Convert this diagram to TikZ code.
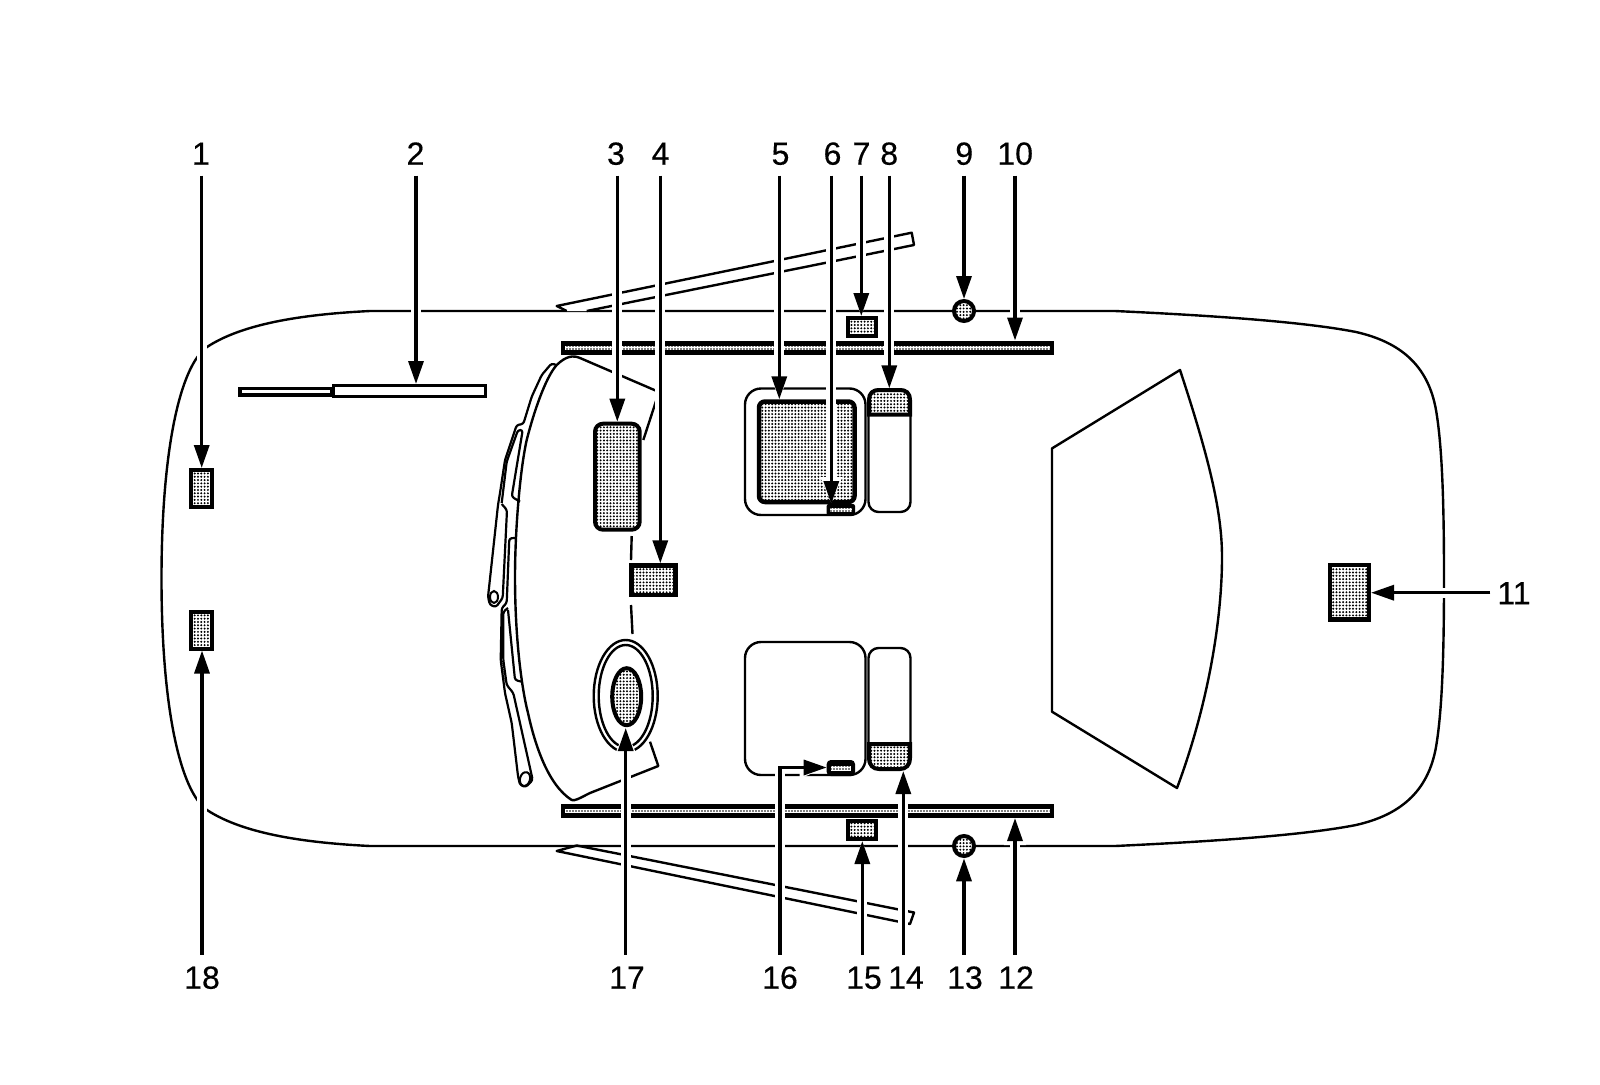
\documentclass[tikz,border=0pt]{standalone}
\usepackage{fontspec}
\setmainfont{Liberation Sans}
\newfontfamily\lblfont[FakeBold=0.35]{Liberation Sans}
\usetikzlibrary{arrows.meta,patterns.meta}
\tikzset{
  lbl/.style={font=\lblfont\fontsize{32}{32}\selectfont,text height=23pt,text depth=0pt,inner ysep=11pt,inner xsep=7pt,outer sep=0pt},
  leader/.style={line width=3.3pt,-{Triangle[length=23pt,width=15pt]},
     preaction={draw=white,line width=10pt,-{Triangle[length=27pt,width=20pt]}}},
  thin line/.style={line width=2.4pt,line join=round},
  wiper/.style={line width=2.2pt,line join=round,rounded corners=2.5pt},
  dotfill/.style={pattern={Dots[distance=3.3pt,radius=1.1pt]},pattern color=black},
  dotbox/.style={draw,line width=4pt,dotfill},
  stripdots/.style={pattern={Dots[distance=3pt,radius=.8pt]},pattern color=black},
}
\begin{document}
\begin{tikzpicture}[x=1pt,y=-1pt]
\useasboundingbox (0,0) rectangle (1600,1084);
\fill[white] (0,0) rectangle (1600,1084);

% body
\draw[thin line] (370,311) -- (1115,311) .. controls (1200,315) and (1300,321) .. (1356,332)
  .. controls (1400,342) and (1428,365) .. (1436,410) .. controls (1442,445) and (1444,500) .. (1444,578.5)
  .. controls (1444,657) and (1442,712) .. (1436,747) .. controls (1428,792) and (1400,815) .. (1356,825)
  .. controls (1300,836) and (1200,842) .. (1115,846) -- (370,846)
  .. controls (310,843) and (245,835) .. (207,810) .. controls (180,791) and (161.5,707) .. (161.5,578.5)
  .. controls (161.5,450) and (180,366) .. (207,347) .. controls (245,322) and (310,314) .. (370,311) -- cycle;

% rear window
\draw[thin line] (1052,448.4) -- (1180,370) .. controls (1208,455) and (1222,510) .. (1222,557)
  .. controls (1222,620) and (1208,705) .. (1177,788) -- (1052,711.7) -- cycle;

% door mirrors / open doors
\draw[thin line,fill=white] (566.7,311) -- (556.7,306) -- (911.7,232.7) -- (914,245) -- (586.7,311);
\draw[thin line] (576.7,845.5) -- (556.7,851) -- (910,924) -- (914,912.5) -- cycle;

% side strips
\fill (561,341) rectangle (1053.6,355);
\fill[white] (565,345.6) rectangle (1049.5,350.4);
\path[stripdots] (565,345.6) rectangle (1049.5,350.4);
\fill (561,804) rectangle (1053.6,818);
\fill[white] (565,808.6) rectangle (1049.5,813.4);
\path[stripdots] (565,808.6) rectangle (1049.5,813.4);

% hood item
\draw[line width=3.5pt,fill=white] (239.8,388.6) rectangle (332,394.8);
\draw[line width=3pt,fill=white] (333,385.5) rectangle (485.2,396.5);

% windshield
\draw[thin line] (643.3,440) -- (659,392) -- (580,358) .. controls (573,355) and (566,356) .. (556.7,365)
  .. controls (545,378) and (533,415) .. (526.7,440) .. controls (520,470) and (515,530) .. (515,577)
  .. controls (515,640) and (522,690) .. (528,713) .. controls (535,745) and (548,785) .. (571.7,800)
  .. controls (575,801) and (578,799) .. (590,793) -- (658.3,766) -- (650,741.7);
\draw[thin line] (631.7,536) -- (631,560);
\draw[thin line] (631,605) -- (632.5,634);

% wipers
\draw[wiper] (556,365) -- (551.7,363.3) -- (541.7,375) -- (531.7,396.7) -- (523.3,424) -- (516.7,425) -- (505,460)
  -- (500,493) -- (498,505) -- (491.7,563) -- (488,597) -- (490,605) -- (496,607) -- (502.7,598) -- (507,510) -- (501.7,504);
\draw[wiper] (520,501.7) -- (511.7,496.7) -- (522.7,430) -- (518,430) -- (506.7,461.7) -- (501.7,503);
\draw[line width=2pt] (494,597) ellipse [x radius=4pt,y radius=6pt];
\draw[wiper] (515,538) -- (509.3,538.3) -- (506.7,603) -- (501.7,608) -- (500.7,660) -- (505,693) -- (511.7,723)
  -- (518,776) -- (520,785) -- (526,787) -- (532.7,780) -- (513.3,693) -- (506.7,685) -- (503.3,660) -- (503.3,611.7) -- (508,608);
\draw[wiper] (508,610) -- (515,680) -- (521.7,681.7);
\draw[line width=2pt,rotate around={-15:(525,779)}] (525,779) ellipse [x radius=5pt,y radius=7pt];

% left boxes
\draw[dotbox] (191,470) rectangle (211.7,507);
\draw[dotbox] (191,612) rectangle (211.7,648.5);

% box 3, box 4
\draw[dotbox,rounded corners=8pt] (595,423.7) rectangle (639.7,529.7);
\draw[dotbox,line width=4.5pt] (631.5,565.5) rectangle (675.5,595);

% steering / ellipses
\draw[thin line] (625.7,696) ellipse [x radius=32pt,y radius=56pt];
\draw[thin line] (625.7,696) ellipse [x radius=27pt,y radius=51pt];
\draw[dotbox] (626.7,696.7) ellipse [x radius=14.5pt,y radius=28.5pt];

% seats, upper
\draw[thin line,rounded corners=16pt] (745,388.5) rectangle (865.5,515);
\draw[dotbox,line width=4.5pt,rounded corners=6pt] (759,401.5) rectangle (854.5,502);
\fill[rounded corners=2pt] (826.7,504) rectangle (855,515.5);
\fill[white] (830,507.5) rectangle (852,512);
\path[stripdots] (830,507.5) rectangle (852,512);
\draw[thin line,rounded corners=10pt] (868.5,389.5) rectangle (910.5,512);
\draw[dotbox] (869,414.5) -- (869,400) .. controls (869,393) and (873,390) .. (879,390) -- (900,390)
  .. controls (906,390) and (910,393) .. (910,400) -- (910,414.5) -- cycle;

% seats, lower
\draw[thin line,rounded corners=16pt] (745,642) rectangle (865.5,775);
\fill[rounded corners=4pt] (826.7,760) rectangle (855,776);
\fill[white] (831,765.5) rectangle (851,770.5);
\path[stripdots] (831,765.5) rectangle (851,770.5);
\draw[thin line,rounded corners=10pt] (868.5,648) rectangle (910.5,769);
\draw[dotbox] (869,744) -- (869,758) .. controls (869,765) and (873,769) .. (879,769) -- (900,769)
  .. controls (906,769) and (910,765) .. (910,758) -- (910,744) -- cycle;

% door boxes and circles
\draw[dotbox] (848,318) rectangle (875.7,335.7);
\draw[dotbox] (848,821.3) rectangle (876,839);
\fill[white] (964,311) circle (10pt);
\draw[dotbox] (964,311) circle (10pt);
\fill[white] (964,846) circle (10pt);
\draw[dotbox] (964,846) circle (10pt);

% rear box
\draw[dotbox,line width=4.5pt] (1330.2,565.2) rectangle (1368.8,619.5);

% labels
\node[lbl] (l1) at (201,153.2) {1};
\node[lbl] (l2) at (415.5,153.2) {2};
\node[lbl] (l3) at (616,153.2) {3};
\node[lbl] (l4) at (660.5,153.2) {4};
\node[lbl] (l5) at (780.5,153.2) {5};
\node[lbl] (l6) at (832.5,153.2) {6};
\node[lbl] (l7) at (861.5,153.2) {7};
\node[lbl] (l8) at (889.2,153.2) {8};
\node[lbl] (l9) at (964.2,153.2) {9};
\node[lbl] (l10) at (1015.2,153.2) {10};
\node[lbl] (l11) at (1514,592.7) {11};
\node[lbl] (l12) at (1016,977.2) {12};
\node[lbl] (l13) at (965,977.2) {13};
\node[lbl] (l14) at (906,977.2) {14};
\node[lbl] (l15) at (864,977.2) {15};
\node[lbl] (l16) at (780,977.2) {16};
\node[lbl] (l17) at (627,977.2) {17};
\node[lbl] (l18) at (202,977.2) {18};

% targets
\coordinate (t1) at (201.7,468);
\coordinate (t2) at (416,384);
\coordinate (t3) at (617.3,421.7);
\coordinate (t4) at (660.3,563.3);
\coordinate (t5) at (779.3,399.3);
\coordinate (t6) at (831.3,504);
\coordinate (t7) at (861.3,316);
\coordinate (t8) at (889.3,388.3);
\coordinate (t9) at (964,299);
\coordinate (t10) at (1015,340.5);
\coordinate (t11) at (1371,592.7);
\coordinate (t12) at (1015,818);
\coordinate (t13) at (964,858.3);
\coordinate (t14) at (903.3,771);
\coordinate (t15) at (862.3,841);
\coordinate (c16) at (780,767.5);
\coordinate (t16) at (826.7,767.5);
\coordinate (t17) at (625.7,728);
\coordinate (t18) at (202,650.5);

% leaders
\foreach \n in {1,2,3,4,5,6,7,8,9,10} \draw[leader] (l\n.south -| t\n) -- (t\n);
\draw[leader] (l11.west) -- (t11);
\foreach \n in {12,13,14,15,17,18} \draw[leader] (l\n.north -| t\n) -- (t\n);
\draw[leader] (l16.north -| c16) -- (c16) -- (t16);
\end{tikzpicture}
\end{document}
